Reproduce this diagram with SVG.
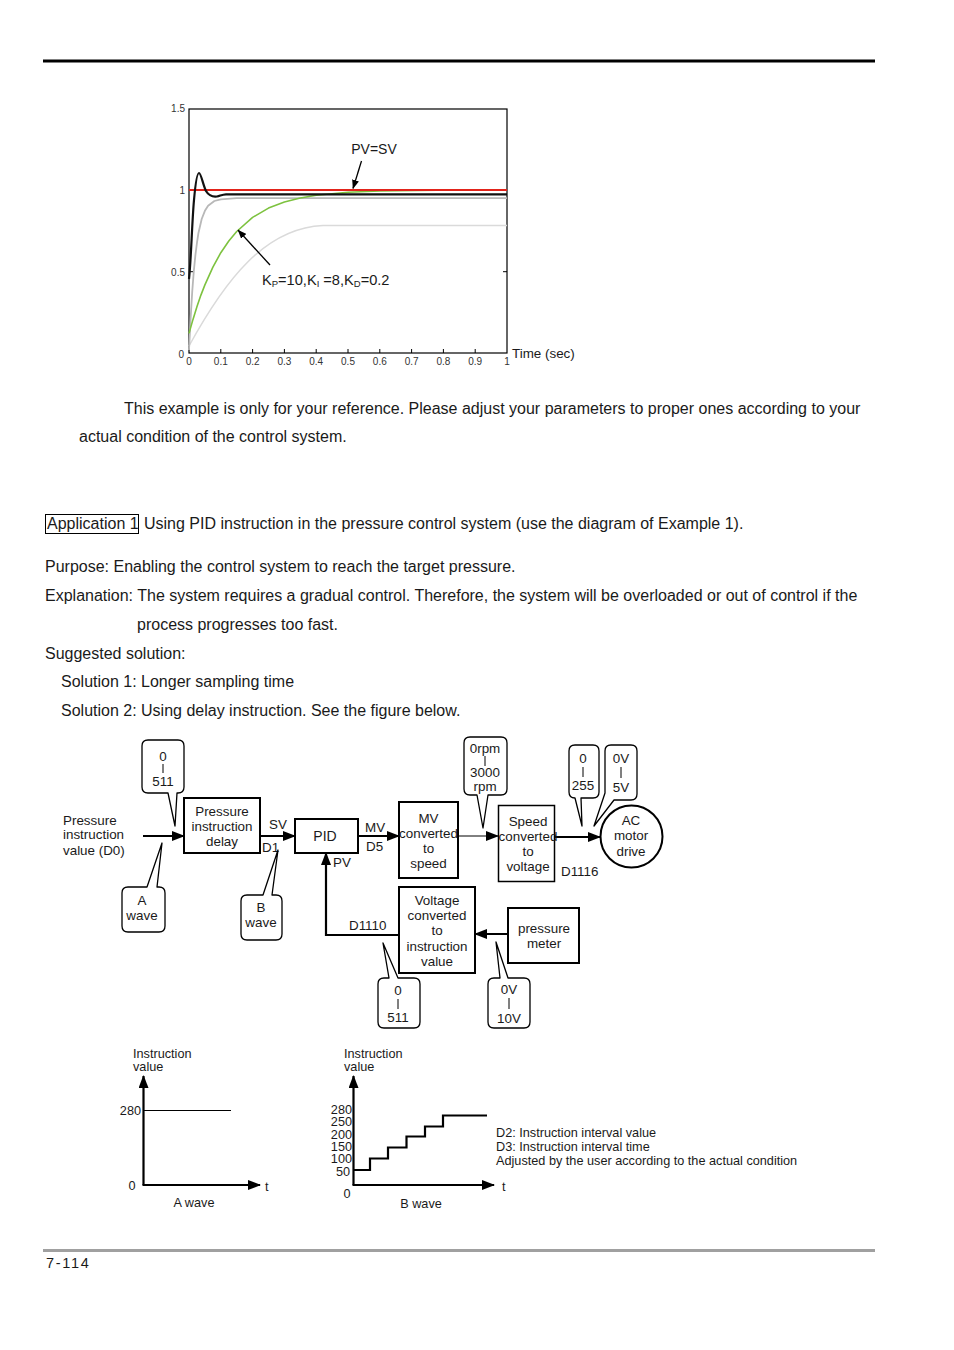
<svg xmlns="http://www.w3.org/2000/svg" width="954" height="1350" viewBox="0 0 954 1350">
<style>
text{font-family:"Liberation Sans",Arial,sans-serif;fill:#1a1a1a}
.b{font-size:16px}
.d{font-size:13.4px}
.dm{font-size:13.4px;text-anchor:middle}
.c{font-size:10px;text-anchor:middle;fill:#333}
.cl{font-size:10px;text-anchor:end;fill:#333}
.s{font-size:12.7px}
.sr{font-size:12.7px;text-anchor:end}
.box{fill:#fff;stroke:#000;stroke-width:2}
.co{fill:#fff;stroke:#000;stroke-width:1.3;stroke-linejoin:round}
.bar{stroke:#000;stroke-width:1}
.w{fill:none;stroke:#000;stroke-width:2.2}
.wt{fill:none;stroke:#000;stroke-width:1}
.tk{stroke:#000;stroke-width:1}
</style>
<defs>
<marker id="ah" markerWidth="13" markerHeight="10" refX="12" refY="5" orient="auto" markerUnits="userSpaceOnUse"><path d="M0,0 L13,5 L0,10 Z" fill="#000"/></marker>
<marker id="as" markerWidth="9" markerHeight="7" refX="8.5" refY="3.5" orient="auto" markerUnits="userSpaceOnUse"><path d="M0,0 L9,3.5 L0,7 Z" fill="#000"/></marker>
</defs>

<!-- header / footer -->
<line x1="43" y1="61" x2="875" y2="61" stroke="#000" stroke-width="3"/>
<line x1="43" y1="1250.5" x2="875" y2="1250.5" stroke="#a0a0a0" stroke-width="3"/>
<text x="46" y="1268" style="font-size:14.5px;letter-spacing:1.7px">7-114</text>

<!-- chart -->
<g id="chart">
<rect x="189" y="109" width="318" height="244" fill="#fff" stroke="#000" stroke-width="1.2"/>
<g class="tk">
<line x1="220.8" y1="353" x2="220.8" y2="349"/><line x1="252.6" y1="353" x2="252.6" y2="349"/><line x1="284.4" y1="353" x2="284.4" y2="349"/><line x1="316.2" y1="353" x2="316.2" y2="349"/><line x1="348" y1="353" x2="348" y2="349"/><line x1="379.8" y1="353" x2="379.8" y2="349"/><line x1="411.6" y1="353" x2="411.6" y2="349"/><line x1="443.4" y1="353" x2="443.4" y2="349"/><line x1="475.2" y1="353" x2="475.2" y2="349"/>
<line x1="189" y1="190.3" x2="193" y2="190.3"/><line x1="189" y1="271.7" x2="193" y2="271.7"/>
<line x1="507" y1="190.3" x2="503" y2="190.3"/><line x1="507" y1="271.7" x2="503" y2="271.7"/>
</g>
<path d="M189,346 C225,280 265,228 323,225.5 L507,225.5" fill="none" stroke="#dadada" stroke-width="1.5"/>
<path d="M189,350 L190.6,319 L192.2,292 L193.8,271.3 L195.4,255.1 L197,242.5 L198.5,232.7 L201.7,219 L204.9,210.8 L208.1,205.8 L214.4,201 L220.8,199.3 L236.7,198.2 L252.6,198.1 L507,198.1" fill="none" stroke="#b8b8b8" stroke-width="1.8" stroke-linejoin="round"/>
<path d="M189,333.4 L193,319.4 L197,306.5 L200.9,295.1 L204.9,284.9 L212.9,267.1 L220.8,252.7 L228.8,241 L236.7,231.5 L252.6,217.4 L268.5,208.1 L284.4,202 L300.3,198 L316.2,195.2 L348,192.3 L379.8,191 L437,190.3" fill="none" stroke="#7dc23f" stroke-width="1.6" stroke-linejoin="round"/>
<line x1="189" y1="190" x2="507" y2="190" stroke="#e2231a" stroke-width="2"/>
<path d="M189,279 C191,262 192,222 194,200 C195.5,183 197,173 199,173 C201,173 203,185 206,191 C209,196 213,197 217,196.5 C220,196 222,194.5 226,194.3 L507,194.3" fill="none" stroke="#111" stroke-width="2.2" stroke-linejoin="round"/>
<line x1="361.5" y1="161" x2="353" y2="188.5" stroke="#000" stroke-width="1.3" marker-end="url(#as)"/>
<line x1="270" y1="265" x2="238" y2="230" stroke="#000" stroke-width="1.3" marker-end="url(#as)"/>
<text x="374" y="154" style="font-size:14px;text-anchor:middle">PV=SV</text>
<text x="262" y="285" style="font-size:14.6px">K<tspan font-size="9.5" dy="2">P</tspan><tspan dy="-2">=10,K</tspan><tspan font-size="9.5" dy="2">I</tspan><tspan dy="-2"> =8,K</tspan><tspan font-size="9.5" dy="2">D</tspan><tspan dy="-2">=0.2</tspan></text>
<text x="185" y="112" class="cl">1.5</text>
<text x="185" y="194" class="cl">1</text>
<text x="185" y="276" class="cl">0.5</text>
<text x="184" y="358" class="cl">0</text>
<text x="189" y="365" class="c">0</text>
<text x="220.8" y="365" class="c">0.1</text>
<text x="252.6" y="365" class="c">0.2</text>
<text x="284.4" y="365" class="c">0.3</text>
<text x="316.2" y="365" class="c">0.4</text>
<text x="348" y="365" class="c">0.5</text>
<text x="379.8" y="365" class="c">0.6</text>
<text x="411.6" y="365" class="c">0.7</text>
<text x="443.4" y="365" class="c">0.8</text>
<text x="475.2" y="365" class="c">0.9</text>
<text x="507" y="365" class="c">1</text>
<text x="512" y="358" style="font-size:13.4px">Time (sec)</text>
</g>

<!-- body text -->
<text x="124" y="414" class="b">This example is only for your reference. Please adjust your parameters to proper ones according to your</text>
<text x="79" y="442" class="b">actual condition of the control system.</text>
<rect x="45.5" y="514.5" width="93" height="19" fill="none" stroke="#000" stroke-width="1"/>
<text x="47" y="529" class="b">Application 1</text>
<text x="144" y="529" class="b">Using PID instruction in the pressure control system (use the diagram of Example 1).</text>
<text x="45" y="572" class="b">Purpose: Enabling the control system to reach the target pressure.</text>
<text x="45" y="601" class="b">Explanation: The system requires a gradual control. Therefore, the system will be overloaded or out of control if the</text>
<text x="137" y="630" class="b">process progresses too fast.</text>
<text x="45" y="659" class="b">Suggested solution:</text>
<text x="61" y="687" class="b">Solution 1: Longer sampling time</text>
<text x="61" y="716" class="b">Solution 2: Using delay instruction. See the figure below.</text>

<!-- block diagram connectors -->
<g id="connectors">
<line x1="143" y1="836" x2="184" y2="836" class="w" marker-end="url(#ah)"/>
<line x1="260" y1="836" x2="295" y2="836" class="w" marker-end="url(#ah)"/>
<line x1="358" y1="836" x2="399" y2="836" class="w" marker-end="url(#ah)"/>
<line x1="458" y1="836" x2="498" y2="836" class="wt" marker-end="url(#ah)"/>
<line x1="554" y1="837" x2="600" y2="837" class="w" marker-end="url(#ah)"/>
<line x1="508" y1="934" x2="475" y2="934" class="w" marker-end="url(#ah)"/>
<polyline points="399,935 326,935 326,853" class="w" marker-end="url(#ah)"/>
<text x="269" y="829" class="d">SV</text>
<text x="262" y="852" class="d">D1</text>
<text x="365" y="832" class="d">MV</text>
<text x="366" y="851" class="d">D5</text>
<text x="333" y="867" class="d">PV</text>
<text x="349" y="930" class="d">D1110</text>
<text x="561" y="876" class="d">D1116</text>
</g>

<g id="input">
<text x="63" y="825" class="d">Pressure</text>
<text x="63" y="839" class="d">instruction</text>
<text x="63" y="855" class="d">value (D0)</text>
</g>

<g id="delay">
<rect x="184" y="798" width="76" height="55" class="box"/>
<text x="222" y="816" class="dm">Pressure</text>
<text x="222" y="831" class="dm">instruction</text>
<text x="222" y="846" class="dm">delay</text>
</g>

<g id="pid">
<rect x="295" y="819" width="63" height="34" class="box"/>
<text x="325" y="841" class="dm" style="font-size:14px">PID</text>
</g>

<g id="mv2speed">
<rect x="399" y="802" width="59" height="76" class="box"/>
<text x="428.5" y="823" class="dm">MV</text>
<text x="428.5" y="838" class="dm">converted</text>
<text x="428.5" y="853" class="dm">to</text>
<text x="428.5" y="868" class="dm">speed</text>
</g>

<g id="speed2volt">
<rect x="498.5" y="805.5" width="56" height="76" fill="#fff" stroke="#000" stroke-width="1.5"/>
<text x="528" y="826" class="dm">Speed</text>
<text x="528" y="841" class="dm">converted</text>
<text x="528" y="856" class="dm">to</text>
<text x="528" y="871" class="dm">voltage</text>
</g>

<g id="acdrive">
<circle cx="631.5" cy="836.5" r="31" class="box"/>
<text x="631" y="825" class="dm">AC</text>
<text x="631" y="840" class="dm">motor</text>
<text x="631" y="856" class="dm">drive</text>
</g>

<g id="volt2inst">
<rect x="399" y="887" width="76" height="86" class="box"/>
<text x="437" y="905" class="dm">Voltage</text>
<text x="437" y="920" class="dm">converted</text>
<text x="437" y="935" class="dm">to</text>
<text x="437" y="951" class="dm">instruction</text>
<text x="437" y="966" class="dm">value</text>
</g>

<g id="pmeter">
<rect x="508" y="908" width="71" height="55" class="box"/>
<text x="544" y="933" class="dm">pressure</text>
<text x="544" y="948" class="dm">meter</text>
</g>

<!-- callouts -->
<g id="callout-511a">
<path class="co" d="M148,740 H178 Q184,740 184,746 V787 Q184,793 178,793 H177 L175,826 L168,793 H148 Q142,793 142,787 V746 Q142,740 148,740 Z"/>
<text x="163" y="761" class="dm">0</text><line x1="163" y1="764" x2="163" y2="773" class="bar"/>
<text x="163" y="786" class="dm">511</text>
</g>
<g id="callout-awave">
<path class="co" d="M128,887 H147 L162,843 L157,887 H159 Q165,887 165,893 V926 Q165,932 159,932 H128 Q122,932 122,926 V893 Q122,887 128,887 Z"/>
<text x="142" y="905" class="dm">A</text>
<text x="142" y="920" class="dm">wave</text>
</g>
<g id="callout-bwave">
<path class="co" d="M247,895 H263 L278,850 L272,895 H276 Q282,895 282,901 V934 Q282,940 276,940 H247 Q241,940 241,934 V901 Q241,895 247,895 Z"/>
<text x="261" y="912" class="dm">B</text>
<text x="261" y="927" class="dm">wave</text>
</g>
<g id="callout-rpm">
<path class="co" d="M470,737 H501 Q507,737 507,743 V789 Q507,795 501,795 H488 L483,828 L477,795 H470 Q464,795 464,789 V743 Q464,737 470,737 Z"/>
<text x="485" y="753" class="dm">0rpm</text><line x1="485" y1="756" x2="485" y2="766" class="bar"/>
<text x="485" y="777" class="dm">3000</text>
<text x="485" y="791" class="dm">rpm</text>
</g>
<g id="callout-255">
<path class="co" d="M575,745 H593 Q599,745 599,751 V792 Q599,798 593,798 H581 L582,826 L575,798 Q569,798 569,792 V751 Q569,745 575,745 Z"/>
<text x="583" y="763" class="dm">0</text><line x1="583" y1="767" x2="583" y2="777" class="bar"/>
<text x="583" y="790" class="dm">255</text>
</g>
<g id="callout-5v">
<path class="co" d="M611,745 H631 Q637,745 637,751 V794 Q637,800 631,800 H614 L594,826 L605,793 V751 Q605,745 611,745 Z"/>
<text x="621" y="763" class="dm">0V</text><line x1="621" y1="767" x2="621" y2="778" class="bar"/>
<text x="621" y="792" class="dm">5V</text>
</g>
<g id="callout-511b">
<path class="co" d="M384,978 H389 L383,943 L398,978 H414 Q420,978 420,984 V1022 Q420,1028 414,1028 H384 Q378,1028 378,1022 V984 Q378,978 384,978 Z"/>
<text x="398" y="995" class="dm">0</text><line x1="398" y1="999" x2="398" y2="1009" class="bar"/>
<text x="398" y="1022" class="dm">511</text>
</g>
<g id="callout-10v">
<path class="co" d="M494,978 H500 L496,942 L508,978 H524 Q530,978 530,984 V1022 Q530,1028 524,1028 H494 Q488,1028 488,1022 V984 Q488,978 494,978 Z"/>
<text x="509" y="994" class="dm">0V</text><line x1="509" y1="998" x2="509" y2="1009" class="bar"/>
<text x="509" y="1023" class="dm">10V</text>
</g>

<!-- A wave chart -->
<g id="awave">
<line x1="143.5" y1="1185" x2="143.5" y2="1076" class="w" marker-end="url(#ah)"/>
<line x1="142.5" y1="1185" x2="260" y2="1185" class="w" marker-end="url(#ah)"/>
<line x1="144" y1="1110.5" x2="231" y2="1110.5" stroke="#000" stroke-width="1"/>
<text x="133" y="1058" class="s">Instruction</text>
<text x="133" y="1071" class="s">value</text>
<text x="141" y="1115" class="sr">280</text>
<text x="132" y="1190" class="s" text-anchor="middle">0</text>
<text x="265" y="1191" class="s">t</text>
<text x="194" y="1207" class="s" text-anchor="middle">A wave</text>
</g>

<!-- B wave chart -->
<g id="bwave">
<line x1="353.5" y1="1185" x2="353.5" y2="1076" class="w" marker-end="url(#ah)"/>
<line x1="352.5" y1="1185" x2="494" y2="1185" class="w" marker-end="url(#ah)"/>
<path d="M353,1170 H370 V1158.5 H388 V1147.5 H406.5 V1136.5 H425 V1126.5 H443 V1115.5 H487" class="w"/>
<text x="344" y="1058" class="s">Instruction</text>
<text x="344" y="1071" class="s">value</text>
<text x="352" y="1114" class="sr">280</text>
<text x="352" y="1126" class="sr">250</text>
<text x="352" y="1139" class="sr">200</text>
<text x="352" y="1151" class="sr">150</text>
<text x="352" y="1163" class="sr">100</text>
<text x="350" y="1176" class="sr">50</text>
<text x="347" y="1198" class="s" text-anchor="middle">0</text>
<text x="502" y="1191" class="s">t</text>
<text x="421" y="1208" class="s" text-anchor="middle">B wave</text>
<text x="496" y="1137" style="font-size:12.7px">D2: Instruction interval value</text>
<text x="496" y="1151" style="font-size:12.7px">D3: Instruction interval time</text>
<text x="496" y="1165" style="font-size:12.7px">Adjusted by the user according to the actual condition</text>
</g>
</svg>
